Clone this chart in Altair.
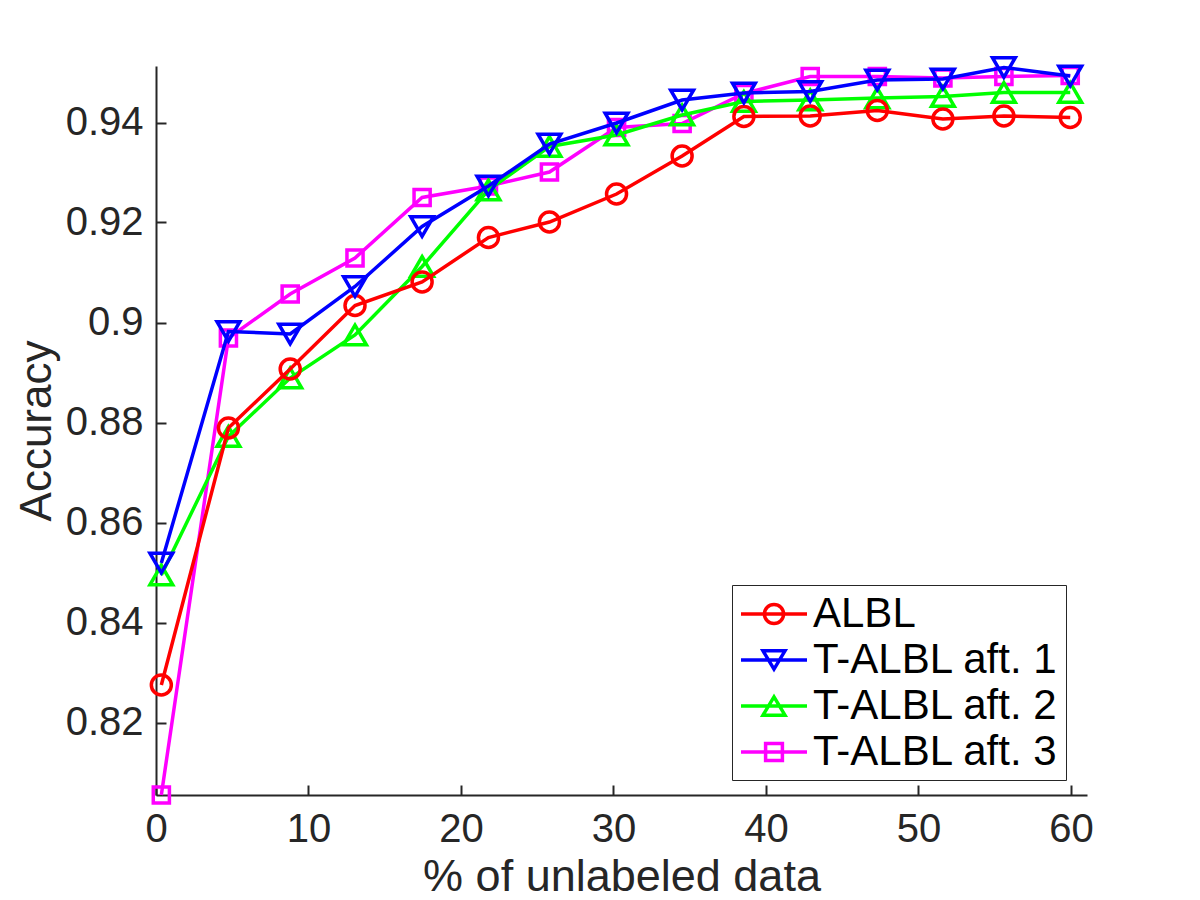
import altair as alt
import pandas as pd

# ---------------- data ----------------
x_pct = [0.35, 4.75, 8.8, 13.05, 17.45, 21.8, 25.8, 30.2, 34.5, 38.55, 42.9, 47.3, 51.6, 55.6, 59.95]

albl = [0.8275, 0.8789, 0.8907, 0.9034, 0.9081, 0.9170, 0.9201, 0.9257, 0.9333, 0.9412,
        0.9413, 0.9424, 0.9407, 0.9413, 0.9410]
t_albl_1 = [0.8519, 0.8982, 0.8977, 0.9072, 0.9192, 0.9273, 0.9357, 0.9399, 0.9445, 0.9459,
            0.9462, 0.9485, 0.9487, 0.9510, 0.9493]
t_albl_2 = [0.8495, 0.8772, 0.8889, 0.8975, 0.9112, 0.9265, 0.9352, 0.9375, 0.9415, 0.9442,
            0.9445, 0.9449, 0.9452, 0.9460, 0.9460]
t_albl_3 = [0.8055, 0.8969, 0.9057, 0.9129, 0.9250, 0.9273, 0.9301, 0.9390, 0.9398, 0.9458,
            0.9492, 0.9492, 0.9489, 0.9492, 0.9494]

series_names = ["ALBL", "T-ALBL aft. 1", "T-ALBL aft. 2", "T-ALBL aft. 3"]
series_colors = ["#ff0000", "#0000ff", "#00ff00", "#ff00ff"]
series_shapes = ["circle", "triangle-down", "triangle-up", "square"]
marker_sizes = [400, 520, 520, 260]
# legend glyphs (unit = 20 px): a line segment with the marker on it
legend_paths = [
    "M-1.65,0L1.65,0M-0.48,0A0.48,0.48 0 1,0 0.48,0A0.48,0.48 0 1,0 -0.48,0Z",
    "M-1.65,0L1.65,0M-0.55,-0.46L0.55,-0.46L0,0.46Z",
    "M-1.65,0L1.65,0M-0.55,0.46L0.55,0.46L0,-0.46Z",
    "M-1.65,0L1.65,0M-0.42,-0.42L0.42,-0.42L0.42,0.42L-0.42,0.42Z",
]
draw_order = ["T-ALBL aft. 3", "T-ALBL aft. 2", "ALBL", "T-ALBL aft. 1"]

x_ticks = [0, 10, 20, 30, 40, 50, 60]
y_ticks = [0.82, 0.84, 0.86, 0.88, 0.90, 0.92, 0.94]
x_domain = [0, 61.05]
y_domain = [0.8055, 0.9513]

rows = []
for name, vals in zip(series_names, [albl, t_albl_1, t_albl_2, t_albl_3]):
    for xv, yv in zip(x_pct, vals):
        rows.append({"x": xv, "y": yv, "series": name})
df = pd.DataFrame(rows)

# ---------------- style ----------------
PW, PH = 931, 729
AXC = "#262626"
FONT = "Liberation Sans"
LW = 3.5

x_scale = alt.Scale(domain=x_domain, nice=False, zero=False)
y_scale = alt.Scale(domain=y_domain, nice=False, zero=False)

x_main_axis = alt.Axis(
    orient="bottom", values=x_ticks, format="d", grid=False, ticks=False, tickSize=0,
    domain=True, domainColor=AXC, domainWidth=2, labelFlush=False,
    labelFont=FONT, labelFontSize=40, labelColor=AXC, labelPadding=14,
    title="% of unlabeled data", titleFont=FONT, titleFontSize=45, titleFontWeight="normal",
    titleColor=AXC, titleBaseline="alphabetic", titleY=95,
)
y_main_axis = alt.Axis(
    orient="left", values=y_ticks, format=".2~f", grid=False, ticks=False, tickSize=0,
    domain=True, domainColor=AXC, domainWidth=2, labelFlush=False,
    labelFont=FONT, labelFontSize=40, labelColor=AXC, labelPadding=13,
    title="Accuracy", titleFont=FONT, titleFontSize=44, titleFontWeight="normal",
    titleColor=AXC, titleBaseline="alphabetic", titleAngle=270, titleX=-106,
)
# inward-pointing ticks: opposite-side axes shifted onto the plot edges
x_tick_axis = alt.Axis(
    orient="top", offset=-PH, values=x_ticks, labels=False, domain=False, ticks=True,
    tickSize=10, tickWidth=2, tickColor=AXC, grid=False, title=None,
)
y_tick_axis = alt.Axis(
    orient="right", offset=-PW, values=y_ticks, labels=False, domain=False, ticks=True,
    tickSize=10, tickWidth=2, tickColor=AXC, grid=False, title=None,
)

base = alt.Chart(df)
layers = []
first = True
for name in draw_order:
    i = series_names.index(name)
    if first:
        xa, ya = x_main_axis, y_main_axis
    else:
        xa, ya = None, None
    line = base.mark_line(strokeWidth=LW, color=series_colors[i]).encode(
        x=alt.X("x:Q", scale=x_scale, axis=xa),
        y=alt.Y("y:Q", scale=y_scale, axis=ya),
    ).transform_filter(alt.datum.series == name)
    layers.append(line)
    if first:
        xa, ya = x_tick_axis, y_tick_axis
    pts = base.mark_point(
        shape=series_shapes[i], filled=False, size=marker_sizes[i], strokeWidth=LW,
        opacity=1, color=series_colors[i],
    ).encode(
        x=alt.X("x:Q", scale=x_scale, axis=xa),
        y=alt.Y("y:Q", scale=y_scale, axis=ya),
    ).transform_filter(alt.datum.series == name)
    layers.append(pts)
    first = False

legend_props = dict(
    title=None, orient="none", legendX=576, legendY=519,
    padding=7, rowPadding=3, labelOffset=17, symbolOffset=13,
    labelFont=FONT, labelFontSize=42, labelColor="black", labelLimit=500,
    symbolSize=1600, symbolStrokeWidth=LW, symbolFillColor="transparent",
    strokeColor=AXC, fillColor="white",
)
legend_layer = base.mark_point(filled=False, size=1600, strokeWidth=LW, opacity=1).encode(
    x=alt.X("x:Q", scale=x_scale, axis=None),
    y=alt.Y("y:Q", scale=y_scale, axis=None),
    stroke=alt.Stroke("series:N", scale=alt.Scale(domain=series_names, range=series_colors),
                      legend=alt.Legend(**legend_props)),
    shape=alt.Shape("series:N", scale=alt.Scale(domain=series_names, range=legend_paths),
                    legend=alt.Legend(**legend_props)),
).transform_filter("false")
layers.append(legend_layer)

chart = alt.layer(*layers).resolve_axis(
    x="independent", y="independent"
).properties(
    width=PW, height=PH,
    autosize=alt.AutoSizeParams(type="none"),
    padding={"left": 148, "top": 58, "right": 50, "bottom": 108},
).configure(background="white").configure_view(stroke=None)

chart.save("out.html", embed_options={"renderer": "svg", "actions": False})
